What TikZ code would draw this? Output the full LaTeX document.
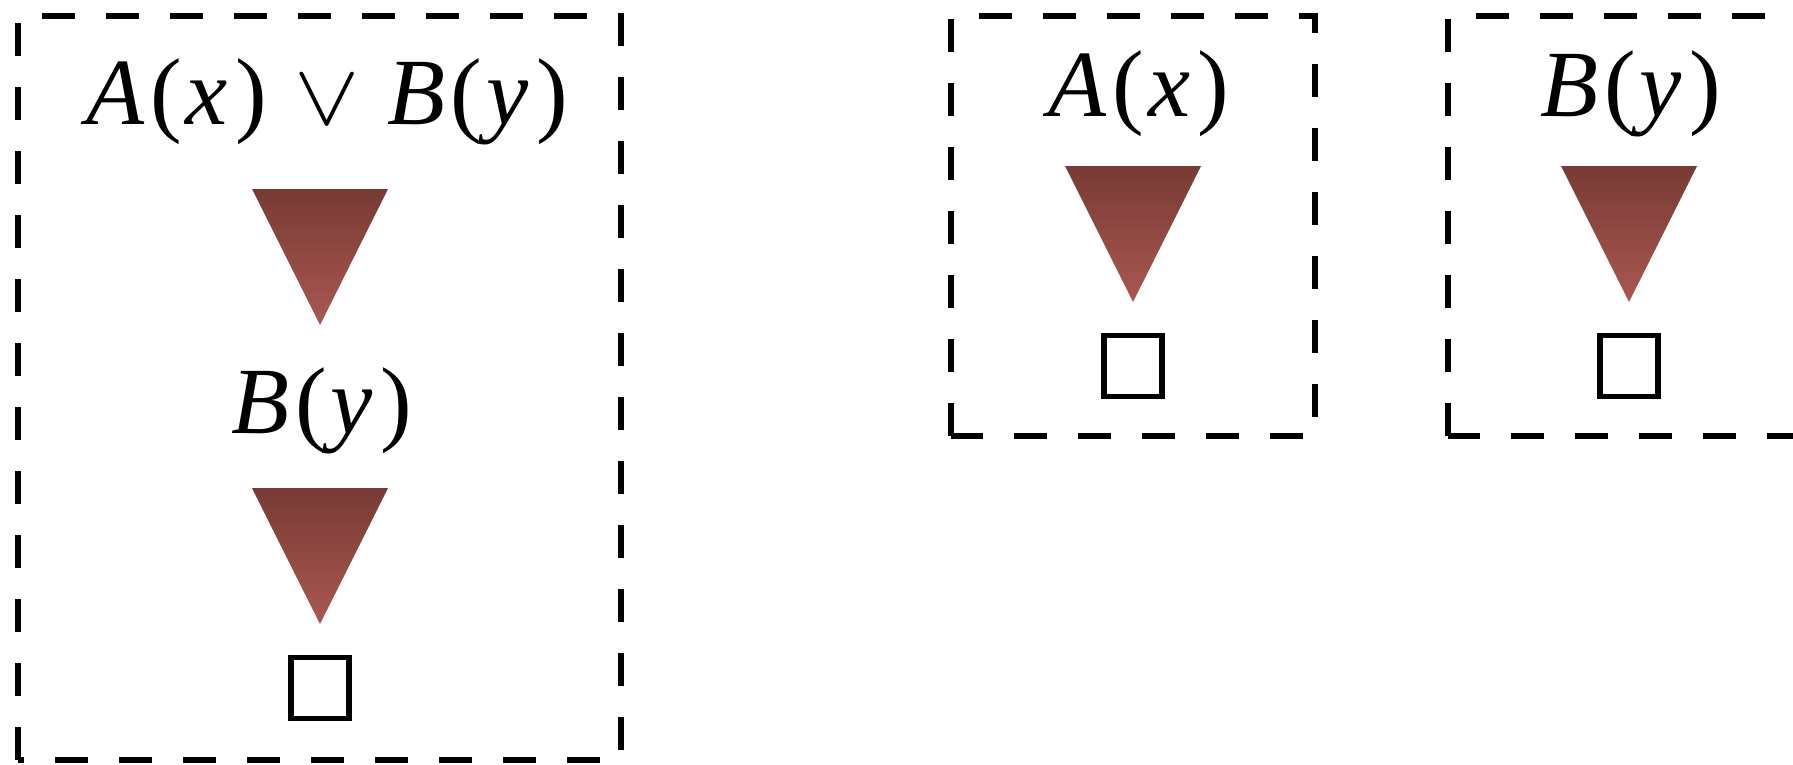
\documentclass[tikz,border=0pt]{standalone}
\usepackage{fontspec}
\setmainfont{Liberation Serif}
\usetikzlibrary{positioning}
\definecolor{tritop}{RGB}{120,58,52}
\definecolor{tribot}{RGB}{170,88,80}
\newcommand{\lit}[2]{\textit{#1}\kern0.06em(\kern0.04em\textit{#2}\kern0.08em)}
\newcommand{\downtri}[1]{\shade[down] ([xshift=-0.68cm]#1) -- ([xshift=0.68cm]#1) -- ([yshift=-1.36cm]#1) -- cycle;}

\begin{document}
\begin{tikzpicture}[
    every node/.style={font=\fontsize{27}{32}\selectfont},
    frame/.style={draw, dash pattern=on 0.33cm off 0.31cm, line width=1.7pt},
    down/.style={top color=tritop, bottom color=tribot, draw=none},
    empty/.style={draw, line width=1.5pt, minimum width=0.58cm, minimum height=0.61cm, inner sep=0pt}
]
\useasboundingbox (0,0) rectangle (17.93,7.64);

% left box: A(x) or B(y)
\draw[frame] (0.18,0.04) rectangle (6.21,7.48);
\node (clause) at (3.27,6.62) {\lit{A}{x}\kern0.04em{} \scalebox{1.12}[1]{\ensuremath{\vee}}\kern0.04em{} \lit{B}{y}};
\coordinate (t1) at (3.2,5.75);
\downtri{t1}
\node (resB) at (3.22,3.53) {\lit{B}{y}};
\coordinate (t2) at (3.2,2.76);
\downtri{t2}
\node[empty] (box1) at (3.2,0.76) {};

% middle box: A(x)
\draw[frame] (9.51,3.28) rectangle (13.15,7.48);
\node (litA) at (11.39,6.70) {\lit{A}{x}};
\coordinate (t3) at (11.33,5.98);
\downtri{t3}
\node[empty] (box2) at (11.33,3.98) {};

% right box: B(y)
\draw[frame] (14.48,3.28) rectangle (18.12,7.48);
\node (litB) at (16.31,6.70) {\lit{B}{y}};
\coordinate (t4) at (16.29,5.98);
\downtri{t4}
\node[empty] (box3) at (16.29,3.98) {};

\end{tikzpicture}
\end{document}
